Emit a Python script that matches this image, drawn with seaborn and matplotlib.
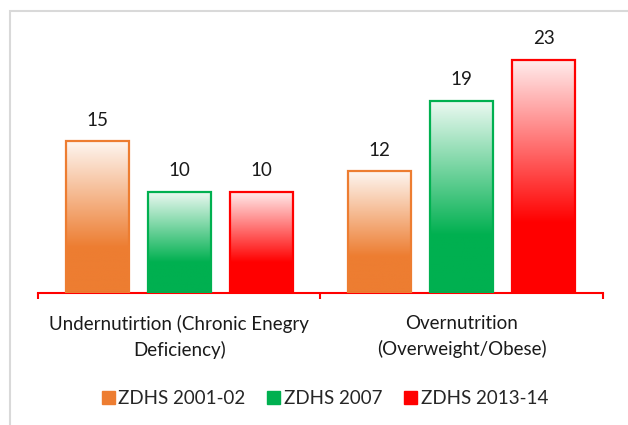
import numpy as np
import pandas as pd
import seaborn as sns
from matplotlib import pyplot as plt
from matplotlib.patches import Patch, Rectangle

categories = ["Undernutirtion (Chronic Enegry\nDeficiency)", "Overnutrition\n(Overweight/Obese)"]
surveys = ["ZDHS 2001-02", "ZDHS 2007", "ZDHS 2013-14"]
values_2001 = [15, 12]
values_2007 = [10, 19]
values_2013 = [10, 23]
colors = ["#ED7D31", "#00B050", "#FF0000"]

dati = pd.DataFrame({
    "categoria": categories * 3,
    "indagine": [s for s in surveys for _ in categories],
    "valore": values_2001 + values_2007 + values_2013,
})


def gradient(color):
    # colore pieno in basso, quasi bianco in alto
    rgb = np.array(plt.matplotlib.colors.to_rgb(color))
    t = np.linspace(0, 1, 200)
    mix = np.where(t < 0.3, 1.0, 1 - (t - 0.3) / 0.7 * 0.93)
    img = (1 - mix)[:, None] * np.ones(3) + mix[:, None] * rgb
    return img[::-1][:, None, :]


sns.set_style("white")
plt.rcParams['font.family'] = ['Lato', 'DejaVu Sans']
fs = 13.5

fig = plt.figure(figsize=(6.28, 4.25), dpi=100)
ax = fig.add_axes([0.0605, 0.3106, 0.8995, 0.6424])

sns.barplot(data=dati, x="categoria", y="valore", hue="indagine", palette=colors,
            width=0.87, gap=0.23, legend=False, ax=ax)

for cont, col in zip(ax.containers, colors):
    for bar in cont:
        x, w, h = bar.get_x(), bar.get_width(), bar.get_height()
        ax.imshow(gradient(col), extent=(x, x + w, 0, h), aspect='auto', zorder=2)
        bar.set_facecolor('none')
        bar.set_edgecolor(col)
        bar.set_linewidth(1.6)
        bar.set_zorder(3)
    ax.bar_label(cont, padding=9, fontsize=fs, color='#1a1a1a')

ax.set_xlim(-0.5, 1.5)
ax.set_ylim(0, 26.95)
ax.set_xlabel("")
ax.set_ylabel("")
ax.set_yticks([])
for s in ["top", "left", "right"]:
    ax.spines[s].set_visible(False)
ax.spines["bottom"].set_color("#FF0000")
ax.spines["bottom"].set_linewidth(1.5)
ax.set_xticks([0, 1])
ax.set_xticklabels(categories, fontsize=fs, color='#1a1a1a', linespacing=1.5)
ax.set_xticks([-0.5, 0.5, 1.5], minor=True)
ax.tick_params(axis='x', which='major', bottom=True, length=0, pad=16)
ax.tick_params(axis='x', which='minor', bottom=True, length=4.5, width=1.5,
               color="#FF0000", direction='out')

handles = [Patch(facecolor=c, edgecolor=c) for c in colors]
fig.legend(handles, surveys, loc='center', bbox_to_anchor=(0.5175, 0.062), ncol=3,
           frameon=False, fontsize=fs, handlelength=0.7, handleheight=0.7,
           handletextpad=0.2, columnspacing=1.15)

fig.patches.append(Rectangle((10 / 628, -0.1), 1.2, 1 - 11 / 425 + 0.1,
                             transform=fig.transFigure, fill=False,
                             edgecolor='#D9D9D9', linewidth=1.5))

plt.savefig("out.png", dpi=100)
